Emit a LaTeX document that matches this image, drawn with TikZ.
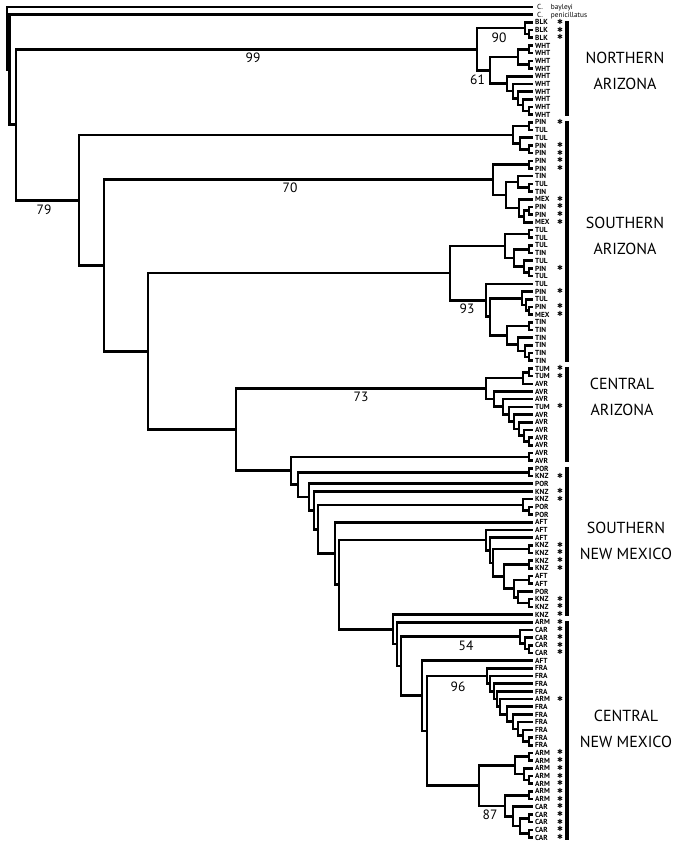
\documentclass[tikz,border=0pt]{standalone}
\usepackage{fontspec}
\setmainfont{PT Sans}
\newfontfamily\djv{DejaVu Sans}
\usetikzlibrary{calc}
\newcommand\cl[4]{%
  \coordinate (mtmp) at ($(#3)!0.5!(#4)$);
  \coordinate (#1) at (#2,0 |- mtmp);
  \draw[br] (#3) -| (#1) |- (#4);
}
\begin{document}
\begin{tikzpicture}[x=1pt,y=-1pt,
  br/.style={line width=2.6pt, line cap=rect, line join=miter},
  tiplab/.style={anchor=west, inner sep=0pt, font=\fontsize{7.3}{7.3}\selectfont\bfseries, text height=5.2pt, text depth=0pt},
  boot/.style={inner sep=0pt, font=\fontsize{13.5}{13.5}\selectfont},
  region/.style={align=center, inner sep=0pt, font=\fontsize{16}{26}\selectfont},
  regbar/.style={line width=3.2pt},
  star/.style={inner sep=0pt, font=\djv\fontsize{7}{7}\selectfont, text height=4pt, text depth=0pt}]
\useasboundingbox (0,0) rectangle (685,844);

% tips
\foreach \i in {1,...,109} { \coordinate (t\i) at (532, {7+(\i-1)*7.69}); }

% tip labels
\node[tiplab, font=\fontsize{7.3}{7.3}\selectfont] (lab1) at (537, 7) {C.\hspace{8pt}bayleyi};
\node[tiplab, font=\fontsize{7.3}{7.3}\selectfont] (lab2) at (537, 14.69) {C.\hspace{8pt}penicillatus};
\foreach \i/\l/\s in {3/BLK/1,4/BLK/1,5/BLK/1,6/WHT/0,7/WHT/0,8/WHT/0,9/WHT/0,10/WHT/0,
  11/WHT/0,12/WHT/0,13/WHT/0,14/WHT/0,15/WHT/0,
  16/PIN/1,17/TUL/0,18/TUL/0,19/PIN/1,20/PIN/1,21/PIN/1,22/PIN/1,23/TIN/0,24/TUL/0,25/TIN/0,
  26/MEX/1,27/PIN/1,28/PIN/1,29/MEX/1,30/TUL/0,31/TUL/0,32/TUL/0,33/TIN/0,34/TUL/0,35/PIN/1,
  36/TUL/0,37/TUL/0,38/PIN/1,39/TUL/0,40/PIN/1,41/MEX/1,42/TIN/0,43/TIN/0,44/TIN/0,45/TIN/0,
  46/TIN/0,47/TIN/0,
  48/TUM/1,49/TUM/1,50/AVR/0,51/AVR/0,52/AVR/0,53/TUM/1,54/AVR/0,55/AVR/0,56/AVR/0,57/AVR/0,
  58/AVR/0,59/AVR/0,60/AVR/0,
  61/POR/0,62/KNZ/1,63/POR/0,64/KNZ/1,65/KNZ/1,66/POR/0,67/POR/0,68/AFT/0,69/AFT/0,70/AFT/0,
  71/KNZ/1,72/KNZ/1,73/KNZ/1,74/KNZ/1,75/AFT/0,76/AFT/0,77/POR/0,78/KNZ/1,79/KNZ/1,80/KNZ/1,
  81/ARM/1,82/CAR/1,83/CAR/1,84/CAR/1,85/CAR/1,86/AFT/0,87/FRA/0,88/FRA/0,89/FRA/0,90/FRA/0,
  91/ARM/1,92/FRA/0,93/FRA/0,94/FRA/0,95/FRA/0,96/FRA/0,97/FRA/0,
  98/ARM/1,99/ARM/1,100/ARM/1,101/ARM/1,102/ARM/1,103/ARM/1,104/ARM/1,
  105/CAR/1,106/CAR/1,107/CAR/1,108/CAR/1,109/CAR/1} {
  \node[tiplab] (lab\i) at (535, {7+(\i-1)*7.69}) {\l};
  \ifnum\s=1 \node[star] (st\i) at (560, {7+(\i-1)*7.69}) {✱}; \fi
}

% ---- Northern Arizona
\cl{b2}{529}{t4}{t5}
\cl{b1}{525}{t3}{b2}
\cl{wa1}{529}{t6}{t7}
\cl{wa2}{529}{t8}{t9}
\cl{Wa}{518}{wa1}{wa2}
\cl{w5}{529}{t14}{t15}
\cl{w4}{523}{t13}{w5}
\cl{w3}{518}{t12}{w4}
\cl{w2}{513}{t11}{w3}
\cl{w1}{507}{t10}{w2}
\cl{W}{490}{Wa}{w1}
\cl{A}{477}{b1}{W}
% ---- Southern Arizona
\cl{s1a}{529}{t16}{t17}
\cl{s1c}{529}{t19}{t20}
\cl{s1b}{520}{t18}{s1c}
\cl{S1}{513}{s1a}{s1b}
\cl{s2a}{529}{t21}{t22}
\cl{s2c}{529}{t24}{t25}
\cl{s2b}{518}{t23}{s2c}
\cl{s2d}{529}{t27}{t28}
\cl{s2e}{524}{s2d}{t29}
\cl{s2f}{519}{t26}{s2e}
\cl{s2g}{506}{s2b}{s2f}
\cl{S2}{493}{s2a}{s2g}
\cl{u1}{529}{t30}{t31}
\cl{u2}{529}{t32}{t33}
\cl{u3}{529}{t35}{t36}
\cl{u4}{524}{t34}{u3}
\cl{u5}{514}{u2}{u4}
\cl{U}{505}{u1}{u5}
\cl{l1}{529}{t40}{t41}
\cl{l2}{526}{t39}{l1}
\cl{l3}{522}{t38}{l2}
\cl{ta}{529}{t42}{t43}
\cl{tb}{529}{t46}{t47}
\cl{tc}{525}{t45}{tb}
\cl{td}{518}{t44}{tc}
\cl{T}{507}{ta}{td}
\cl{l4}{490}{l3}{T}
\cl{L}{486}{t37}{l4}
\cl{S3}{450}{U}{L}
% ---- Central Arizona
\cl{ca1}{529}{t48}{t49}
\cl{ca2}{523}{ca1}{t50}
\cl{c7}{529}{t57}{t58}
\cl{c6}{524}{t56}{c7}
\cl{c5}{519}{t55}{c6}
\cl{c4}{514}{t54}{c5}
\cl{c3}{509}{t53}{c4}
\cl{c2}{503}{t52}{c3}
\cl{c1}{494}{t51}{c2}
\cl{CA}{486}{ca2}{c1}
\cl{av}{529}{t59}{t60}
% ---- Southern New Mexico
\cl{p1}{529}{t61}{t62}
\cl{pp}{529}{t66}{t67}
\cl{K1}{523}{t65}{pp}
\cl{g1}{529}{t71}{t72}
\cl{g2}{529}{t73}{t74}
\cl{g3}{529}{t75}{t76}
\cl{g4}{529}{t78}{t79}
\cl{C6}{518}{t77}{g4}
\cl{C5}{514}{g3}{C6}
\cl{C4}{504}{g2}{C5}
\cl{C3}{493}{g1}{C4}
\cl{C2}{490}{t70}{C3}
\cl{C}{486}{t69}{C2}
% ---- Central New Mexico
\cl{q3}{529}{t84}{t85}
\cl{q2}{525}{t83}{q3}
\cl{CAR4}{520}{t82}{q2}
\cl{F10}{529}{t96}{t97}
\cl{F9}{523}{t95}{F10}
\cl{F8}{518}{t94}{F9}
\cl{F7}{513}{t93}{F8}
\cl{F6}{507}{t92}{F7}
\cl{F5}{500}{t91}{F6}
\cl{F4}{497}{t90}{F5}
\cl{F3}{494}{t89}{F4}
\cl{F2}{490}{t88}{F3}
\cl{F1}{487}{t87}{F2}
\cl{a1}{529}{t98}{t99}
\cl{a2}{529}{t101}{t102}
\cl{a3}{524}{t100}{a2}
\cl{U2}{515}{a1}{a3}
\cl{a4}{529}{t103}{t104}
\cl{cr1}{529}{t106}{t107}
\cl{cr2}{529}{t108}{t109}
\cl{cr3}{520}{cr1}{cr2}
\cl{cr4}{513}{t105}{cr3}
\cl{L2}{505}{a4}{cr4}
\cl{AC}{479}{U2}{L2}
% ---- backbone
\cl{R16}{427}{F1}{AC}
\cl{R15}{422}{t86}{R16}
\cl{R14}{401}{CAR4}{R15}
\cl{R13}{397}{t81}{R14}
\cl{R12}{393}{t80}{R13}
\cl{R11}{339}{C}{R12}
\cl{R10}{335}{t68}{R11}
\cl{R9}{318}{K1}{R10}
\cl{R8}{314}{t64}{R9}
\cl{R7}{309}{t63}{R8}
\cl{R6}{298}{p1}{R7}
\cl{R5}{291}{av}{R6}
\cl{R4}{236}{CA}{R5}
\cl{R3}{148}{S3}{R4}
\cl{R2}{104}{S2}{R3}
\cl{R}{79}{S1}{R2}
\cl{I}{16}{A}{R}
\cl{X}{9.5}{t2}{I}
\cl{root}{7}{t1}{X}

% bootstrap values
\node[boot] (bs99) at (253,58) {99};
\node[boot] (bs90) at (499,38) {90};
\node[boot] (bs61) at (477.5,79.5) {61};
\node[boot] (bs79) at (44,210) {79};
\node[boot] (bs70) at (290,187.5) {70};
\node[boot] (bs93) at (467,309) {93};
\node[boot] (bs73) at (361,396.5) {73};
\node[boot] (bs54) at (466,645.5) {54};
\node[boot] (bs96) at (458,686.5) {96};
\node[boot] (bs87) at (490,815) {87};

% region bars
\draw[regbar] (567,20.9) -- (567,116.2);
\draw[regbar] (567,120.9) -- (567,362.2);
\draw[regbar] (567,366.9) -- (567,462.2);
\draw[regbar] (567,466.9) -- (567,616.2);
\draw[regbar] (567,620.9) -- (567,840);

% region labels
\node[region] (nAZ) at (625,70.5) {NORTHERN\\ARIZONA};
\node[region] (sAZ) at (625,235.5) {SOUTHERN\\ARIZONA};
\node[region] (cAZ) at (622,396.5) {CENTRAL\\ARIZONA};
\node[region] (sNM) at (626,541) {SOUTHERN\\NEW MEXICO};
\node[region] (cNM) at (626,728.5) {CENTRAL\\NEW MEXICO};
\end{tikzpicture}
\end{document}
